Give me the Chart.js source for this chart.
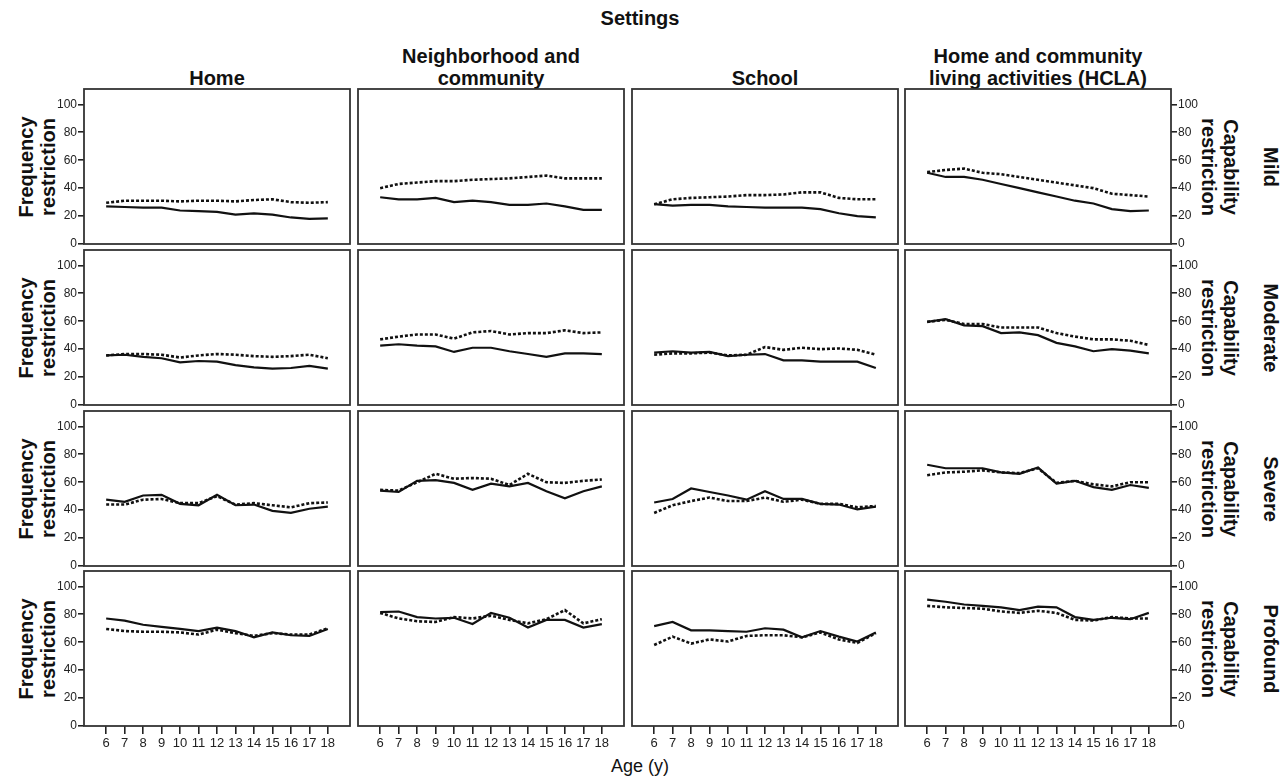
<!DOCTYPE html>
<html>
<head>
<meta charset="utf-8">
<script src="https://cdn.jsdelivr.net/npm/chart.js"></script>
<style>
  body { margin: 0; background: #fff; }
  #wrap { position: relative; width: 1287px; height: 778px; font-family: "Liberation Sans", Arial, sans-serif; color: #111; }
  .lbl { position: absolute; font-weight: bold; font-size: 20px; line-height: 22px; text-align: center; white-space: pre; }
  .rot { transform: translate(-50%, -50%) rotate(-90deg); }
  .rotr { transform: translate(-50%, -50%) rotate(90deg); }
  canvas { position: absolute; }
</style>
</head>
<body>
<div id="wrap"></div>
<script>
  var ages = [6, 7, 8, 9, 10, 11, 12, 13, 14, 15, 16, 17, 18];
  var yTicks = [0, 20, 40, 60, 80, 100];
  var settings = ['Home', 'Neighborhood and\ncommunity', 'School', 'Home and community\nliving activities (HCLA)'];
  var severities = ['Mild', 'Moderate', 'Severe', 'Profound'];

  // solid line = frequency restriction, dotted line = capability restriction
  // each: [Home, Neighborhood, School, HCLA]
  var mildFrequency = [
    [27, 26.5, 26, 26, 24, 23.5, 23, 21, 22, 21, 19, 18, 18.3],
    [33.5, 32, 32, 33, 30, 31, 30, 28, 28, 29, 27, 24.5, 24.5],
    [28.5, 27.5, 28, 28, 27, 26.5, 26, 26, 26, 25, 22, 20, 19],
    [51, 48, 48, 46, 43, 40, 37, 34, 31, 29, 25, 23.5, 24]
  ];
  var mildCapability = [
    [29.5, 31, 31, 31, 30.5, 31, 31, 30.5, 31.5, 32, 30, 29.5, 30],
    [40, 43, 44, 45, 45, 46, 46.5, 47, 48, 49, 47, 47, 47],
    [28.5, 32, 33, 33.5, 34, 35, 35, 35.5, 37, 37, 33, 32, 32],
    [51.5, 53, 54, 51, 50, 48, 46, 44, 42, 40, 36, 35, 34]
  ];
  var moderateFrequency = [
    [35.5, 36, 34.5, 33.5, 30.5, 31.5, 31, 28.5, 27, 26, 26.5, 28, 26],
    [42.5, 43.5, 42.5, 42, 38, 41, 41, 38.5, 36.5, 34.5, 37, 37, 36.5],
    [37.5, 38.5, 37.5, 38, 35, 36, 36.5, 32, 32, 31, 31, 31, 26.5],
    [59.5, 61.5, 57, 56.5, 51.5, 52, 50, 44.5, 42, 38.5, 40, 39, 37]
  ];
  var moderateCapability = [
    [35.5, 36.5, 36.5, 36, 34, 35.5, 36.5, 36, 35, 34.5, 35, 36, 33.5],
    [47, 49, 50.5, 50.5, 47.5, 52, 53, 50.5, 51.5, 51.5, 53.5, 51.5, 52],
    [36, 37, 37, 37.5, 35.5, 36, 41.5, 39.5, 41, 40, 40.5, 39.5, 36],
    [59.5, 61, 58, 58, 55.5, 55.5, 55.5, 51.5, 49, 47, 47, 46, 43]
  ];
  var severeFrequency = [
    [47.5, 46, 50.5, 51, 44.5, 43.5, 51, 43.5, 44, 39.5, 38, 41, 42.5],
    [54, 53, 61, 61.5, 59.5, 54.5, 59, 57, 59.5, 53.5, 48.5, 53.5, 57],
    [45.5, 48, 55.5, 53, 50.5, 47.5, 53.5, 48, 48, 44.5, 44, 40.5, 42.5],
    [72.5, 70, 70, 70, 67, 66, 70.5, 59, 61, 56.5, 54.5, 58, 56]
  ];
  var severeCapability = [
    [44, 44, 47.5, 48, 45, 45, 50, 44, 45, 43.5, 42, 45, 45.5],
    [54.5, 54, 60, 66, 62.5, 63, 62.5, 58, 66, 60, 59.5, 61, 62],
    [38, 43.5, 46.5, 49, 46.5, 46.5, 49, 46, 47.5, 44.5, 44.5, 42, 43],
    [65, 67, 67.5, 68.5, 67, 66.5, 70, 59.5, 61, 58.5, 57, 60, 60]
  ];
  var profoundFrequency = [
    [77, 75.5, 72.5, 71, 69.5, 68, 70.5, 68, 63.5, 67, 65, 64.5, 69.5],
    [81.5, 82, 78, 77, 77.5, 73, 81, 77.5, 70.5, 76, 76, 70.5, 73],
    [71.5, 74.5, 68.5, 68.5, 68, 67.5, 70, 69, 63.5, 68, 64, 60.5, 67],
    [90.5, 89, 87, 86, 85, 83, 85.5, 85, 78, 76, 77.5, 76.5, 81]
  ];
  var profoundCapability = [
    [69.5, 68, 67.5, 67.5, 67, 65.5, 69, 66.5, 64.5, 66.5, 65.5, 65.5, 70],
    [81, 77, 75, 74.5, 78, 77, 79, 76, 73.5, 76.5, 83, 73.5, 76.5],
    [58, 64, 59, 62, 60.5, 64.5, 65, 65, 63.5, 67, 62, 59.5, 66.5],
    [86, 85, 84.5, 84, 82, 81, 82.5, 81, 76, 75.5, 78, 77, 77]
  ];

  var frequency = [mildFrequency, moderateFrequency, severeFrequency, profoundFrequency];
  var capability = [mildCapability, moderateCapability, severeCapability, profoundCapability];

  var wrap = document.getElementById('wrap');
  var colLeft = [84, 358, 632, 905];
  var rowTop = [89, 250, 411, 571];
  var panelW = 266, panelH = 155;
  var padL = 30, padR = 30, padT = 12, padB = 30;

  function addLabel(text, x, y, cls, extra) {
    var d = document.createElement('div');
    d.className = 'lbl ' + (cls || '');
    d.textContent = text;
    d.style.left = x + 'px';
    d.style.top = y + 'px';
    if (extra) Object.assign(d.style, extra);
    wrap.appendChild(d);
    return d;
  }

  // titles
  addLabel('Settings', 640, 18, '', {transform: 'translate(-50%, -50%)'});
  settings.forEach(function (s, c) {
    addLabel(s, colLeft[c] + panelW / 2, 0, '', {transform: 'translateX(-50%)', top: 'auto', bottom: (778 - 89) + 'px'});
  });
  addLabel('Age (y)', 640, 766, '', {transform: 'translate(-50%, -50%)', fontWeight: 'normal', fontSize: '18px'});

  severities.forEach(function (s, r) {
    var cy = rowTop[r] + panelH / 2;
    addLabel('Frequency\nrestriction', 37, cy, 'rot');
    addLabel('Capability\nrestriction', 1220, cy, 'rotr');
    addLabel(s, 1271, cy, 'rotr');
  });

  var boxPlugin = {
    id: 'box',
    afterDraw: function (chart) {
      var a = chart.chartArea, ctx = chart.ctx;
      ctx.save();
      ctx.strokeStyle = '#333';
      ctx.lineWidth = 1.8;
      ctx.strokeRect(a.left, a.top, a.right - a.left, a.bottom - a.top);
      ctx.restore();
    }
  };

  function toPoints(vals) {
    return vals.map(function (v, i) { return {x: ages[i], y: v}; });
  }

  for (var r = 0; r < 4; r++) {
    for (var c = 0; c < 4; c++) {
      var cv = document.createElement('canvas');
      var w = panelW + padL + padR, h = panelH + padT + padB;
      cv.width = w; cv.height = h;
      cv.style.width = w + 'px'; cv.style.height = h + 'px';
      cv.style.left = (colLeft[c] - padL) + 'px';
      cv.style.top = (rowTop[r] - padT) + 'px';
      wrap.appendChild(cv);

      var showY = (c === 0 || c === 3);
      var showX = (r === 3);

      new Chart(cv, {
        type: 'line',
        data: {
          datasets: [{
            data: toPoints(frequency[r][c]),
            borderColor: '#111',
            borderWidth: 2.2,
            pointRadius: 0,
            tension: 0
          }, {
            data: toPoints(capability[r][c]),
            borderColor: '#111',
            borderWidth: 2.6,
            borderDash: [3, 2],
            pointRadius: 0,
            tension: 0
          }]
        },
        options: {
          responsive: false,
          animation: false,
          events: [],
          layout: {
            padding: {
              left: c === 0 ? 0 : padL,
              right: c === 3 ? 0 : padR,
              top: padT,
              bottom: showX ? 0 : padB
            }
          },
          plugins: { legend: { display: false }, tooltip: { enabled: false } },
          scales: {
            x: {
              type: 'linear',
              min: 4.8,
              max: 19.2,
              display: showX,
              afterBuildTicks: function (s) { s.ticks = ages.map(function (v) { return {value: v}; }); },
              afterFit: showX ? function (s) { s.height = padB; } : undefined,
              grid: { drawOnChartArea: false, drawTicks: true, tickLength: 8, color: '#222', lineWidth: 1.6 },
              border: { display: false },
              ticks: { color: '#222', font: { size: 13, family: '"Liberation Sans", Arial' }, padding: 2, maxRotation: 0 }
            },
            y: {
              min: 0,
              max: 111,
              position: c === 3 ? 'right' : 'left',
              display: showY,
              afterBuildTicks: function (s) { s.ticks = yTicks.map(function (v) { return {value: v}; }); },
              afterFit: showY ? function (s) { s.width = padL; } : undefined,
              grid: { drawOnChartArea: false, drawTicks: true, tickLength: 6, color: '#222', lineWidth: 1.6 },
              border: { display: false },
              ticks: { color: '#222', font: { size: 12, family: '"Liberation Sans", Arial' }, padding: 1 }
            }
          }
        },
        plugins: [boxPlugin]
      });
    }
  }
</script>
</body>
</html>
